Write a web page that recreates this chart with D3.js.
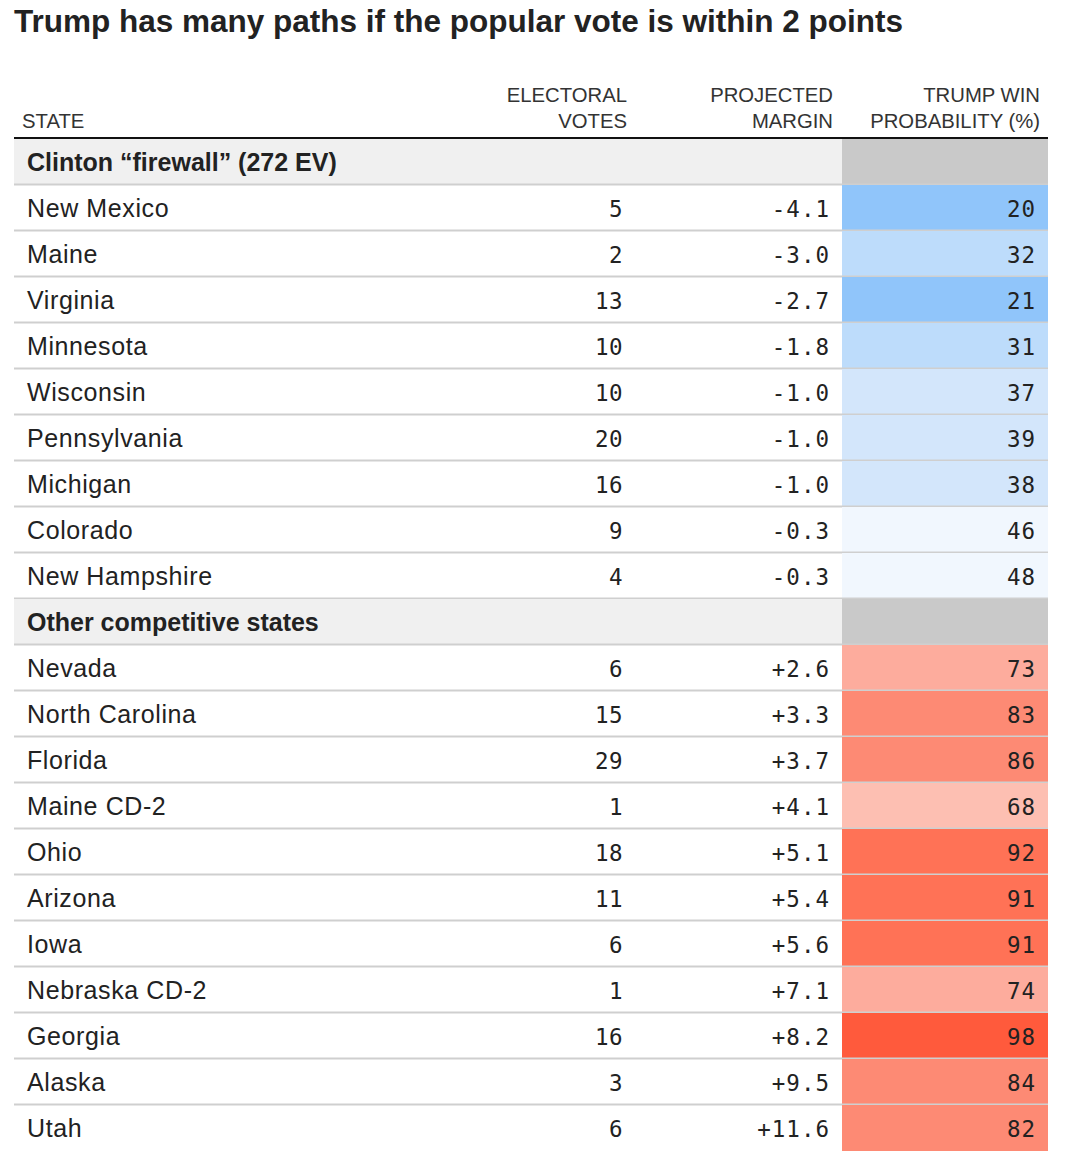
<!DOCTYPE html>
<html><head><meta charset="utf-8">
<script src="https://cdn.jsdelivr.net/npm/d3@7"></script>
<style>
body{margin:0;background:#fff;}
svg{display:block;}
</style></head>
<body>
<svg id="chart" width="1066" height="1166"></svg>
<script>
// ---- data ----
const title = "Trump has many paths if the popular vote is within 2 points";
const columnHeaders = [["STATE"], ["ELECTORAL", "VOTES"], ["PROJECTED", "MARGIN"], ["TRUMP WIN", "PROBABILITY (%)"]];
const groupNames = ["Clinton \u201cfirewall\u201d (272 EV)", "Other competitive states"];
const firewallStates = ["New Mexico","Maine","Virginia","Minnesota","Wisconsin","Pennsylvania","Michigan","Colorado","New Hampshire"];
const firewallEV = [5,2,13,10,10,20,16,9,4];
const firewallMargin = [-4.1,-3.0,-2.7,-1.8,-1.0,-1.0,-1.0,-0.3,-0.3];
const firewallProb = [20,32,21,31,37,39,38,46,48];
const otherStates = ["Nevada","North Carolina","Florida","Maine CD-2","Ohio","Arizona","Iowa","Nebraska CD-2","Georgia","Alaska","Utah"];
const otherEV = [6,15,29,1,18,11,6,1,16,3,6];
const otherMargin = [2.6,3.3,3.7,4.1,5.1,5.4,5.6,7.1,8.2,9.5,11.6];
const otherProb = [73,83,86,68,92,91,91,74,98,84,82];

// ---- build rows ----
const rows = [];
rows.push({type:"group", name:groupNames[0]});
firewallStates.forEach((s,i)=>rows.push({type:"state", name:s, ev:firewallEV[i], margin:firewallMargin[i], prob:firewallProb[i]}));
rows.push({type:"group", name:groupNames[1]});
otherStates.forEach((s,i)=>rows.push({type:"state", name:s, ev:otherEV[i], margin:otherMargin[i], prob:otherProb[i]}));

const svg = d3.select("#chart");
const left = 14, right = 1048, cellX = 842;
const y = d3.scaleBand().domain(d3.range(rows.length)).range([139, 1151]).padding(0);
const color = d3.scaleThreshold()
  .domain([25, 35, 45, 60, 70, 80, 88, 95])
  .range(["#90c5fa","#bddcfb","#d3e6fb","#f1f7fe","#fdbfb2","#fdac9d","#fd8a74","#ff7256","#ff5a3c"]);
const fmtMargin = d => (d > 0 ? "+" : "-") + Math.abs(d).toFixed(1);

const sans = "'Liberation Sans', Arial, sans-serif";
const mono = "'DejaVu Sans Mono', monospace";
const ink = "#222";

// title
svg.append("text").attr("x", left).attr("y", 32)
  .attr("font-family", sans).attr("font-weight", "bold").attr("font-size", 31.5)
  .attr("fill", ink).text(title);

// column headers
const colRight = [null, 627, 833, 1040];
columnHeaders.forEach((lines, c) => {
  lines.forEach((ln, j) => {
    const baseY = 128 - (lines.length - 1 - j) * 26;
    svg.append("text")
      .attr("x", c === 0 ? 22 : colRight[c]).attr("y", baseY)
      .attr("text-anchor", c === 0 ? "start" : "end")
      .attr("font-family", sans).attr("font-size", 20.3)
      .attr("fill", "#333").text(ln);
  });
});

// rows
const g = svg.append("g");
const rg = g.selectAll("g.row").data(rows).join("g").attr("class","row")
  .attr("transform", (d,i)=>`translate(0,${y(i)})`);

const h = y.bandwidth();
rg.filter(d=>d.type==="group").append("rect")
  .attr("x", left).attr("width", cellX-left).attr("height", h).attr("fill", "#f0f0f0");
rg.filter(d=>d.type==="group").append("rect")
  .attr("x", cellX).attr("width", right-cellX).attr("height", h).attr("fill", "#c9c9c9");
rg.filter(d=>d.type==="state").append("rect")
  .attr("x", cellX).attr("width", right-cellX).attr("height", h).attr("fill", d=>color(d.prob));

// separators
rg.filter((d,i)=>i < rows.length-1).append("line")
  .attr("x1", left).attr("x2", right).attr("y1", h-0.5).attr("y2", h-0.5)
  .attr("stroke", "#cfcfcf").attr("stroke-width", 2);

const base = h/2 + 8.5;
rg.append("text").attr("x", 27).attr("y", base)
  .attr("font-family", sans)
  .attr("font-size", d=>d.type==="group" ? 25 : 25)
  .attr("letter-spacing", d=>d.type==="group" ? 0 : 0.6)
  .attr("font-weight", d=>d.type==="group" ? "bold" : "normal")
  .attr("fill", ink).text(d=>d.name);

const st = rg.filter(d=>d.type==="state");
st.append("text").attr("x", 623).attr("y", base).attr("text-anchor","end")
  .attr("font-family", mono).attr("font-size", 22.5).attr("fill", ink)
  .attr("letter-spacing", 0.5).text(d=>d.ev);
st.append("text").attr("x", 830).attr("y", base).attr("text-anchor","end")
  .attr("font-family", mono).attr("font-size", 22.5).attr("fill", ink)
  .attr("letter-spacing", 1).text(d=>fmtMargin(d.margin));
st.append("text").attr("x", 1036).attr("y", base).attr("text-anchor","end")
  .attr("font-family", mono).attr("font-size", 22.5).attr("fill", ink)
  .attr("letter-spacing", 1).text(d=>d.prob);

// header rule
svg.append("line").attr("x1", left).attr("x2", right).attr("y1", 138).attr("y2", 138)
  .attr("stroke", "#111").attr("stroke-width", 2);
</script>
</body></html>
